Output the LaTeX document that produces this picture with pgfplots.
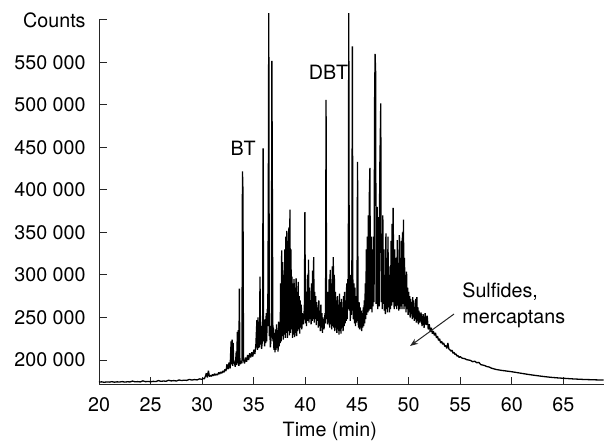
\documentclass[border=0pt]{standalone}
\usepackage{fontspec}
\setmainfont{TeX Gyre Heros}
\usepackage{pgfplots}
\pgfplotsset{compat=1.18}
\usetikzlibrary{arrows.meta}

\begin{document}
\begin{tikzpicture}[font=\fontsize{9.85pt}{11.8pt}\selectfont]
\path[use as bounding box] (-49.5pt,-28.5pt) rectangle (252.5pt,192.5pt);
\begin{axis}[
    at={(0,0)}, anchor=south west,
    scale only axis, width=252.5pt, height=182.5pt,
    xmin=20, xmax=68.93, ymin=170600, ymax=600000,
    axis lines=left,
    axis line style={-, black!85, line width=0.5pt},
    tick align=inside, major tick length=3.8pt,
    tick style={black!85, line width=0.5pt},
    xtick={20,25,30,35,40,45,50,55,60,65},
    ytick={200000,250000,300000,350000,400000,450000,500000,550000,600000},
    yticklabels={200~000,250~000,300~000,350~000,400~000,450~000,500~000,550~000,Counts},
    scaled y ticks=false,
    /pgf/number format/assume math mode=true,
    xticklabel style={inner sep=0pt, anchor=north, yshift=-6pt},
    yticklabel style={inner sep=0pt, anchor=east, xshift=-6.5pt},
    xlabel={Time (min)},
    xlabel style={at={(axis description cs:0.457,0)}, anchor=base, inner sep=0pt, yshift=-26pt},
    clip=false,
]
\addplot[black, line width=0.65pt, line join=bevel] table {
20.0 174000
20.25 174300
20.5 173800
20.75 174200
21.0 174000
21.25 174500
21.5 173900
21.75 174300
22.0 174100
22.25 174600
22.5 174000
22.75 174400
23.0 174200
23.25 175200
23.5 174300
23.75 174600
24.0 174200
24.25 175500
24.5 174500
24.75 174800
25.0 174400
25.25 174900
25.5 174600
25.75 175800
26.0 174900
26.25 175300
26.5 175000
26.75 176200
27.0 175400
27.25 175800
27.5 175300
27.75 176500
28.0 175800
28.25 176300
28.5 176000
28.75 177200
29.0 176400
29.25 177000
29.5 176600
29.75 177800
30.0 177200
30.1 178500
30.2 177800
30.3 180500
30.4 184500
30.5 179500
30.6 187500
30.7 180500
30.8 182000
30.9 180800
31.0 183000
31.1 181500
31.2 184000
31.3 182000
31.4 183500
31.5 182500
31.6 185500
31.7 183500
31.8 186000
31.9 184500
32.0 187000
32.1 185500
32.2 189000
32.3 187000
32.4 195000
32.5 189000
32.6 197000
32.7 190000
32.8 222000
32.85 195000
32.9 224000
32.95 193000
33.0 220000
33.05 196000
33.1 198000
33.2 192000
33.3 210000
33.35 194000
33.4 233000
33.45 196000
33.5 235000
33.55 193000
33.6 284000
33.65 197000
33.7 195000
33.8 199000
33.85 196000
33.9 422000
33.95 398000
34.0 200000
34.1 196000
34.2 203000
34.3 198000
34.4 206000
34.5 200000
34.6 208000
34.7 203000
34.8 209000
34.9 204000
35.0 212000
35.1 207000
35.2 218000
35.3 247000
35.35 212000
35.4 250000
35.45 214000
35.5 245000
35.55 215000
35.6 298000
35.65 218000
35.7 240000
35.75 213000
35.85 225000
35.9 449000
35.95 222000
36.0 228000
36.05 216000
36.1 248000
36.15 220000
36.2 255000
36.25 222000
36.3 260000
36.35 240000
36.4 368000
36.45 608000
36.5 228000
36.55 240000
36.6 215000
36.7 230000
36.75 552000
36.8 388000
36.85 222000
36.9 238000
36.95 212000
37.0 232000
37.05 209000
37.1 236000
37.15 212000
37.2 242000
37.25 214000
37.3 235000
37.35 210000
37.4 245000
37.45 216000
37.5 238000
37.55 220000
37.6 290000
37.65 222000
37.7 329000
37.75 228000
37.8 315000
37.85 224000
37.9 300000
37.95 230000
38.0 330000
38.05 226000
38.1 345000
38.15 232000
38.2 352000
38.25 226000
38.3 340000
38.35 234000
38.4 356000
38.45 229000
38.5 377000
38.55 232000
38.6 330000
38.65 236000
38.7 298000
38.75 226000
38.8 290000
38.85 230000
38.9 295000
38.95 227000
39.0 285000
39.05 232000
39.1 296000
39.15 228000
39.2 280000
39.25 234000
39.3 292000
39.35 236000
39.4 275000
39.45 231000
39.5 270000
39.55 238000
39.6 265000
39.65 236000
39.7 255000
39.8 242000
39.9 262000
39.95 374000
40.0 243000
40.05 280000
40.1 240000
40.2 300000
40.25 246000
40.3 318000
40.35 244000
40.4 285000
40.45 248000
40.5 270000
40.55 242000
40.6 290000
40.65 246000
40.7 305000
40.75 248000
40.8 321000
40.85 244000
40.9 280000
40.95 248000
41.0 275000
41.05 241000
41.1 268000
41.15 246000
41.2 262000
41.25 238000
41.3 270000
41.35 240000
41.4 258000
41.45 234000
41.5 265000
41.55 238000
41.6 255000
41.65 232000
41.7 250000
41.8 236000
41.9 255000
41.95 243000
42.0 506000
42.05 248000
42.1 262000
42.15 242000
42.2 280000
42.25 244000
42.3 295000
42.35 238000
42.4 306000
42.45 242000
42.5 290000
42.55 236000
42.6 310000
42.65 240000
42.7 321000
42.75 238000
42.8 300000
42.85 234000
42.9 280000
42.95 238000
43.0 270000
43.05 232000
43.1 275000
43.15 236000
43.2 265000
43.25 230000
43.3 278000
43.35 234000
43.4 268000
43.45 231000
43.5 272000
43.55 238000
43.6 262000
43.65 234000
43.7 275000
43.75 240000
43.8 280000
43.85 243000
43.9 270000
43.95 246000
44.0 290000
44.05 248000
44.1 295000
44.15 260000
44.2 608000
44.25 258000
44.3 285000
44.35 246000
44.4 300000
44.45 253000
44.5 298000
44.55 569000
44.6 268000
44.65 248000
44.7 290000
44.75 243000
44.8 285000
44.85 240000
44.9 275000
44.95 244000
45.0 280000
45.05 433000
45.1 248000
45.15 238000
45.2 268000
45.25 236000
45.3 262000
45.35 238000
45.4 258000
45.45 234000
45.5 255000
45.55 238000
45.6 262000
45.65 240000
45.7 270000
45.75 243000
45.8 290000
45.85 248000
45.9 330000
45.95 253000
46.0 345000
46.05 256000
46.1 370000
46.15 258000
46.2 400000
46.25 426000
46.3 260000
46.35 300000
46.4 345000
46.45 256000
46.5 330000
46.55 263000
46.6 345000
46.65 268000
46.7 500000
46.75 560000
46.8 540000
46.85 266000
46.9 300000
46.95 380000
47.0 260000
47.05 330000
47.1 368000
47.15 263000
47.2 420000
47.25 460000
47.3 502000
47.35 268000
47.4 340000
47.45 260000
47.5 370000
47.55 266000
47.6 330000
47.65 258000
47.7 300000
47.75 254000
47.8 349000
47.85 260000
47.9 320000
47.95 256000
48.0 345000
48.05 262000
48.1 300000
48.15 256000
48.2 310000
48.25 260000
48.3 340000
48.35 264000
48.4 360000
48.45 268000
48.5 379000
48.55 300000
48.6 260000
48.65 330000
48.7 263000
48.8 320000
48.85 260000
48.9 341000
48.95 264000
49.0 300000
49.05 258000
49.1 347000
49.15 260000
49.2 320000
49.25 263000
49.3 340000
49.35 260000
49.4 350000
49.45 266000
49.5 365000
49.55 260000
49.6 320000
49.65 263000
49.7 300000
49.75 256000
49.8 304000
49.85 260000
49.9 285000
49.95 253000
50.0 280000
50.05 256000
50.1 275000
50.15 250000
50.2 272000
50.25 254000
50.3 268000
50.35 248000
50.4 274000
50.45 250000
50.5 270000
50.55 246000
50.6 262000
50.65 248000
50.7 272000
50.75 244000
50.8 274000
50.85 246000
50.9 262000
50.95 242000
51.0 258000
51.1 244000
51.2 256000
51.3 240000
51.4 254000
51.5 238000
51.6 255000
51.7 241000
51.8 252000
51.9 236000
52.0 242000
52.1 233000
52.2 238000
52.3 231000
52.4 234000
52.5 229000
52.6 232000
52.7 226000
52.8 228000
52.9 223000
53.0 225000
53.1 220000
53.2 222000
53.3 218500
53.4 220000
53.5 216000
53.6 217000
53.7 213500
53.8 220000
53.9 213000
54.0 212000
54.1 210500
54.2 211500
54.3 208000
54.4 209000
54.5 206500
54.6 207000
54.7 204500
54.8 205000
54.9 203000
55.0 204000
55.2 202000
55.4 201800
55.6 200500
55.8 200000
56.0 199500
56.2 198000
56.4 198600
56.6 196800
56.8 197200
57.0 194500
57.2 194000
57.4 193300
57.6 192200
57.8 191800
58.0 190500
58.5 188800
59.0 187800
59.5 187000
60.0 186200
60.5 185200
61.0 184200
61.5 183200
62.0 182300
62.5 181500
63.0 180700
63.5 180000
64.0 179400
64.5 178900
65.0 178500
65.5 178100
66.0 177700
66.5 177400
67.0 177100
67.5 176900
68.0 176700
68.5 176500
68.9 176400
};
\node[anchor=base, inner sep=0pt] at (axis cs:33.97,440000) {BT};
\node[anchor=base, inner sep=0pt] at (axis cs:42.24,529400) {DBT};
\node[anchor=base west, inner sep=0pt] at (axis cs:55.17,274100) {Sulfides,};
\node[anchor=base west, inner sep=0pt] at (axis cs:55.17,242400) {mercaptans};
\draw[black!85, line width=0.5pt, -{Stealth[length=4pt, width=3pt]}]
    (axis cs:54.4,254100) -- (axis cs:50.14,216500);
\end{axis}
\end{tikzpicture}
\end{document}
